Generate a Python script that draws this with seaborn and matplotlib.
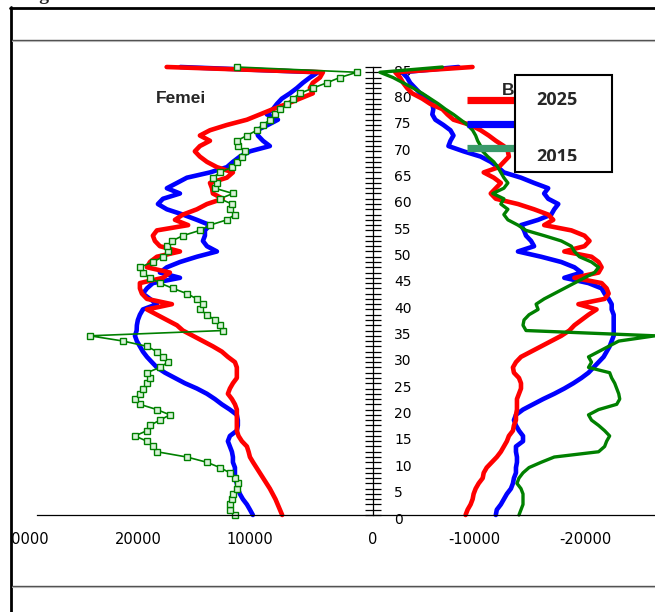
"""
Piramida vârstelor - Femei / Bărbați, 2015-2025
"""

import matplotlib.pyplot as plt
import matplotlib.ticker as mticker
from matplotlib.patches import Rectangle
from matplotlib.lines import Line2D
from matplotlib.transforms import ScaledTranslation, Bbox, TransformedBbox
import seaborn as sns

sns.set_style("white")
plt.rcParams['font.family'] = ['DejaVu Sans']
plt.rcParams['axes.unicode_minus'] = False

# ---- date (vârsta 0..85, 85 = 85+) ----
ages = list(range(86))

fem_2025 = [8100, 8300, 8500, 8700, 8950, 9200, 9500, 9800, 10100, 10400,
            10700, 10980, 11100, 11250, 11700, 12000, 12150, 12150, 12150, 12150,
            12150, 12320, 12590, 12950, 12770, 12500, 12150, 12150, 12150, 12320,
            12950, 13490, 14290, 15180, 16070, 16970, 17500, 18400, 19290, 20180,
            17950, 20180, 20630, 20810, 20810, 18750, 18130, 20180, 19910, 19290,
            17230, 19020, 19470, 19650, 19290, 16500, 17680, 16970, 15720, 14820,
            13400, 14290, 14370, 14550, 13040, 12500, 13930, 14820, 15450, 15900,
            15450, 14550, 15450, 14550, 13040, 11250, 10090, 8930, 7680, 6520,
            5360, 5630, 5360, 4730, 4460, 18420]

fem_2020 = [10720, 10980, 11250, 11610, 11880, 12060, 12150, 12320, 12320, 12320,
            12500, 12500, 12590, 12770, 12950, 12770, 12150, 12060, 12060, 12150,
            12770, 13490, 14110, 14820, 15720, 16790, 17680, 18570, 19290, 19740,
            20180, 20540, 20810, 21080, 21250, 21100, 21080, 20990, 20810, 20540,
            19290, 19910, 20540, 20180, 19650, 17230, 19020, 18400, 17230, 15720,
            13930, 14820, 15180, 15000, 15000, 14550, 15720, 16970, 18400, 19200,
            18750, 17230, 18400, 17500, 16610, 14550, 13040, 12500, 11880, 10980,
            9200, 9820, 10270, 10360, 9380, 8480, 9470, 8930, 8570, 8130,
            7410, 6790, 6250, 5630, 4900, 17200]

fem_2015 = [12320, 12770, 12770, 12590, 12500, 12150, 12060, 12320, 12770, 13660,
            14820, 16610, 19290, 19650, 20180, 21250, 20180, 19910, 19020, 18130,
            19290, 20810, 21250, 20810, 20540, 20180, 19910, 20180, 19020, 18300,
            18750, 19290, 20180, 22300, 25270, 13400, 13660, 14110, 14820, 15450,
            15180, 15720, 16610, 17860, 19020, 19910, 20540, 20810, 19650, 18750,
            18300, 18400, 17950, 16970, 15450, 14550, 13040, 12320, 12770, 12590,
            13660, 12500, 14110, 13930, 14290, 13660, 12590, 12150, 11700, 11430,
            12060, 12150, 11250, 10360, 9820, 9200, 8750, 8300, 7680, 7140,
            6520, 5360, 4110, 2950, 1430, 12150]

bar_2025 = [-8280, -8460, -8730, -8910, -9000, -9180, -9450, -9810, -9900, -10170,
            -10620, -11070, -11430, -11700, -11970, -12150, -12510, -12600, -12780, -12780,
            -12870, -12870, -12870, -13050, -13230, -13230, -13050, -12600, -12510, -12780,
            -13230, -14130, -15030, -15930, -16830, -17550, -18000, -18630, -19260, -19980,
            -18360, -20700, -21060, -20880, -20430, -18000, -20160, -20430, -20160, -19530,
            -17100, -18900, -19350, -18900, -17730, -15300, -16110, -15660, -14400, -12960,
            -10980, -10530, -10980, -11430, -10800, -9900, -11250, -11700, -12150, -12060,
            -11700, -10980, -10350, -9630, -8730, -7200, -6660, -6210, -5130, -4410,
            -3510, -3060, -2700, -2430, -2000, -8900]

bar_2020 = [-10980, -11070, -11430, -11700, -11970, -12330, -12510, -12600, -12780, -12780,
            -12870, -12870, -12780, -12780, -13410, -13410, -13050, -12780, -12600, -12780,
            -13410, -14310, -15210, -16200, -17100, -17910, -18630, -19260, -19710, -20160,
            -20610, -20880, -21150, -21330, -21510, -21510, -21510, -21510, -21510, -21330,
            -21330, -21060, -20700, -20430, -19260, -17100, -18630, -18000, -16830, -15030,
            -12960, -14400, -14130, -13680, -13500, -13230, -14760, -15930, -16200, -16560,
            -15660, -15300, -15660, -14400, -13230, -11700, -11160, -10530, -9630, -8100,
            -6750, -6930, -7200, -6930, -6300, -5580, -5310, -5400, -5310, -4950,
            -4230, -3780, -3330, -3060, -2610, -7650]

bar_2015 = [-13050, -13230, -13410, -13410, -13410, -13230, -12870, -13050, -13410, -13950,
            -15030, -16200, -20160, -20700, -20880, -21150, -20700, -20160, -19530, -19260,
            -20160, -21780, -22050, -21960, -21780, -21600, -21330, -21150, -19260, -19530,
            -19260, -20160, -21060, -21960, -25200, -13680, -13410, -13500, -13950, -14760,
            -14580, -15300, -16200, -17100, -18000, -18900, -19800, -20160, -19530, -18450,
            -18000, -17730, -16830, -15300, -13680, -12960, -12060, -11700, -12060, -11430,
            -11700, -10710, -11700, -12060, -11700, -11430, -11160, -10800, -10260, -9810,
            -9630, -9360, -9180, -8910, -8460, -7830, -7200, -6480, -5850, -5130,
            -4410, -3600, -2700, -1800, -630, -6210]

x_ticks = [30000, 20000, 10000, 0, -10000, -20000]
x_tick_labels = ['30000', '20000', '10000', '0', '-10000', '-20000']
legend_years = ['2025', '2015']
sex_labels = ['Femei', 'Bărbați']

RED, BLUE, GREEN, LEG_GREEN = '#FF0000', '#0000FF', '#008000', '#3A9A6B'

W, H = 655, 612
fig = plt.figure(figsize=(W / 100, H / 100), dpi=100)


def fx(x):
    return x / W


def fy(y):
    return 1 - y / H


ax = fig.add_axes([fx(37), fy(515), fx(655) - fx(37), fy(67) - fy(515)])

# linii
common = dict(orient='y', sort=False, estimator=None, ax=ax, clip_on=False)
sns.lineplot(x=fem_2020, y=ages, color=BLUE, lw=3.3, **common)
sns.lineplot(x=bar_2020, y=ages, color=BLUE, lw=3.3, **common)
sns.lineplot(x=fem_2025, y=ages, color=RED, lw=3.3, **common)
sns.lineplot(x=bar_2025, y=ages, color=RED, lw=3.3, **common)
sns.lineplot(x=fem_2015, y=ages, color=GREEN, lw=1.2, marker='s', markersize=3.7,
             markerfacecolor='#d9f2d9', markeredgecolor=GREEN, markeredgewidth=1.0,
             **common)
sns.lineplot(x=bar_2015, y=ages, color=GREEN, lw=2.4, **common)

# axe
ax.set_xlim(30000, -25200)
ax.set_ylim(0, 85)
ax.set_xlabel('')
ax.set_ylabel('')
ax.spines['left'].set_visible(False)
ax.spines['top'].set_visible(False)
ax.spines['right'].set_position(('data', 0))
for s in ('right', 'bottom'):
    ax.spines[s].set_color('black')
    ax.spines[s].set_linewidth(0.9)
ax.yaxis.tick_right()
ax.yaxis.set_major_locator(mticker.MultipleLocator(5))
ax.yaxis.set_minor_locator(mticker.MultipleLocator(1))
ax.tick_params(axis='y', which='both', direction='inout', length=11.5, width=0.9,
               pad=9.5, labelsize=10, colors='black')
ax.set_xticks(x_ticks)
ax.set_xticklabels(x_tick_labels)
ax.tick_params(axis='x', direction='inout', length=7.2, width=0.9, pad=9,
               labelsize=10.5, colors='black')

for lab in ax.get_xticklabels():
    if lab.get_text() != '0':
        lab.set_transform(lab.get_transform() + ScaledTranslation(-0.11, 0, fig.dpi_scale_trans))
for lab in ax.get_yticklabels():
    lab.set_transform(lab.get_transform() + ScaledTranslation(0, -0.03, fig.dpi_scale_trans))

# etichete
fig.text(fx(181), fy(98.5), sex_labels[0], ha='center', va='center',
         family='Liberation Sans', weight='bold', fontsize=12.5, zorder=7)
t_bar = fig.text(fx(502), fy(95), sex_labels[1], ha='left', va='baseline',
                 family='Liberation Sans', weight='bold', fontsize=12.5, zorder=7)
# restul cuvântului stă sub caseta legendei
t_bar.set_clip_box(TransformedBbox(Bbox.from_extents(fx(490), fy(110), fx(514), fy(70)),
                                   fig.transFigure))
t_bar.set_clip_on(True)

# legenda (parțial acoperită)
for yy, c in zip([100, 124, 148], [RED, BLUE, LEG_GREEN]):
    fig.add_artist(Line2D([fx(467), fx(540)], [fy(yy), fy(yy)], color=c, lw=5.2,
                          solid_capstyle='butt', zorder=7))
fig.add_artist(Rectangle((fx(515), fy(172)), fx(612) - fx(515), fy(75) - fy(172),
                         transform=fig.transFigure, facecolor='white',
                         edgecolor='black', lw=1.5, zorder=8))
fig.text(fx(557), fy(100), legend_years[0], ha='center', va='center',
         family='Open Sans', weight='bold', fontsize=13, zorder=9)
t15 = fig.text(fx(557), fy(157), legend_years[1], ha='center', va='center',
               family='Open Sans', weight='bold', fontsize=13, zorder=9)
t15.set_clip_box(TransformedBbox(Bbox.from_extents(fx(516), fy(161), fx(611), fy(76)),
                                 fig.transFigure))
t15.set_clip_on(True)

# chenarul tabelului din document
fig.text(fx(22), fy(0.5), 'Figura 3', ha='left', va='baseline',
         family='Liberation Serif', weight='bold', fontsize=14)
fig.add_artist(Rectangle((0, 0), fx(11), 1, transform=fig.transFigure,
                         facecolor='white', edgecolor='none', zorder=5))
fig.add_artist(Line2D([fx(11), fx(11)], [0, fy(7)], color='black', lw=2, zorder=6))
fig.add_artist(Line2D([fx(10), 1], [fy(8), fy(8)], color='black', lw=2, zorder=6))
for yy in (40, 586):
    fig.add_artist(Line2D([fx(12), 1], [fy(yy), fy(yy)], color='#4d4d4d', lw=1, zorder=6))
    fig.add_artist(Line2D([fx(12), 1], [fy(yy + 1.3), fy(yy + 1.3)], color='#b5b5b5',
                          lw=0.8, zorder=6))

fig.savefig('out.png', dpi=100)
